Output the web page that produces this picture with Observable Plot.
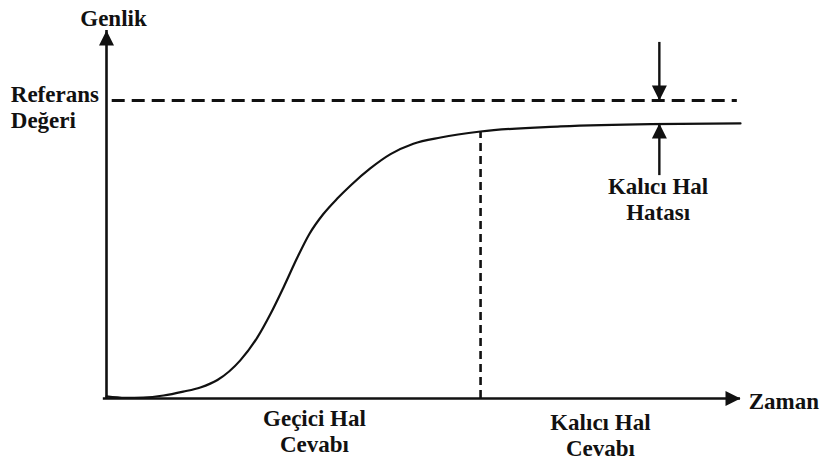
<!DOCTYPE html>
<html>
<head>
<meta charset="utf-8">
<script src="https://cdn.jsdelivr.net/npm/d3@7"></script>
<script src="https://cdn.jsdelivr.net/npm/@observablehq/plot@0.6"></script>
<style>
  html, body { margin: 0; padding: 0; background: #fff; }
  #chart svg { display: block; }
</style>
</head>
<body>
<div id="chart"></div>
<script>
// ---- data (time units 0..10, amplitude: reference value = 1) ----
const time      = [0, 0.30, 0.58, 0.90, 1.21, 1.48, 1.75, 2.11, 2.38, 2.59, 2.79, 3.01, 3.20, 3.42, 3.64, 3.85, 4.16, 4.48, 4.84, 5.27, 5.90, 7.16, 8.58, 10.0];
const amplitude = [0.007, 0.002, 0.003, 0.010, 0.023, 0.037, 0.062, 0.128, 0.205, 0.285, 0.372, 0.473, 0.552, 0.619, 0.671, 0.715, 0.772, 0.820, 0.855, 0.876, 0.896, 0.913, 0.921, 0.923];

const referenceValue = 1.0;
const steadyStateValue = 0.923;
const settlingTime = 5.9;
const refLineSpan = [0.09, 9.95];
const xAxisSpan = [-0.05, 10.0];
const yAxisSpan = [0, 1.235];
const errorArrowTime = 8.72;
const errorArrowTop = 1.195;
const errorArrowBottom = 0.748;

const labelText = ["Genlik", "Referans\nDeğeri", "Kalıcı Hal\nHatası", "Geçici Hal\nCevabı", "Kalıcı Hal\nCevabı", "Zaman"];
const labelX    = [0.11, -1.51, 8.70, 3.28, 7.79, 10.13];
const labelY    = [1.279, 0.98, 0.669, -0.109, -0.121, -0.007];
const labelAnchor = ["middle", "start", "middle", "middle", "middle", "start"];

// ---- derived tables ----
const curve = time.map((t, i) => ({t, a: amplitude[i]}));
const labels = labelText.map((s, i) => ({s, x: labelX[i], y: labelY[i], anchor: labelAnchor[i]}));

// custom arrowhead symbol: tip at origin, pointing up
const arrowHead = {
  draw(ctx, size) {
    const r = Math.sqrt(size / Math.PI);
    ctx.moveTo(0, 0);
    ctx.lineTo(-r, 2 * r);
    ctx.lineTo(r, 2 * r);
    ctx.closePath();
  }
};

const heads = [
  {x: 0, y: yAxisSpan[1], rot: 0},
  {x: xAxisSpan[1], y: 0, rot: 90},
  {x: errorArrowTime, y: referenceValue, rot: 180},
  {x: errorArrowTime, y: steadyStateValue, rot: 0}
];

const font = "'Liberation Serif', 'Times New Roman', serif";
const textOpts = {fontSize: 23, fontWeight: "bold", fontFamily: font, fill: "#111", lineHeight: 1.13};

const plot = Plot.plot({
  width: 820,
  height: 462,
  marginLeft: 106,
  marginRight: 80,
  marginTop: 30,
  marginBottom: 64,
  x: {domain: [0, 10], axis: null},
  y: {domain: yAxisSpan, axis: null},
  style: {background: "#fff", overflow: "visible"},
  marks: [
    // axes
    Plot.ruleX([0], {y1: yAxisSpan[0], y2: yAxisSpan[1], stroke: "#111", strokeWidth: 2.6}),
    Plot.ruleY([0], {x1: xAxisSpan[0], x2: xAxisSpan[1], stroke: "#111", strokeWidth: 2.6}),
    // reference value (dashed)
    Plot.ruleY([referenceValue], {x1: refLineSpan[0], x2: refLineSpan[1], stroke: "#111", strokeWidth: 3.2, strokeDasharray: "13,7"}),
    // settling time (dashed vertical)
    Plot.ruleX([settlingTime], {y1: 0, y2: amplitude[time.indexOf(settlingTime)], stroke: "#111", strokeWidth: 2.6, strokeDasharray: "8,5"}),
    // response curve
    Plot.line(curve, {x: "t", y: "a", curve: "monotone-x", stroke: "#111", strokeWidth: 2.2}),
    // steady-state error arrows
    Plot.ruleX([errorArrowTime], {y1: errorArrowTop, y2: referenceValue, stroke: "#111", strokeWidth: 2.4}),
    Plot.ruleX([errorArrowTime], {y1: errorArrowBottom, y2: steadyStateValue, stroke: "#111", strokeWidth: 2.4}),
    // arrowheads
    Plot.dot(heads, {x: "x", y: "y", rotate: "rot", symbol: arrowHead, r: 7.5, fill: "#111", stroke: "none"}),
    // labels
    ...["start", "middle"].map(anchor =>
      Plot.text(labels.filter(d => d.anchor === anchor), {x: "x", y: "y", text: "s", textAnchor: anchor, ...textOpts})
    )
  ]
});

document.getElementById("chart").appendChild(plot);
</script>
</body>
</html>
